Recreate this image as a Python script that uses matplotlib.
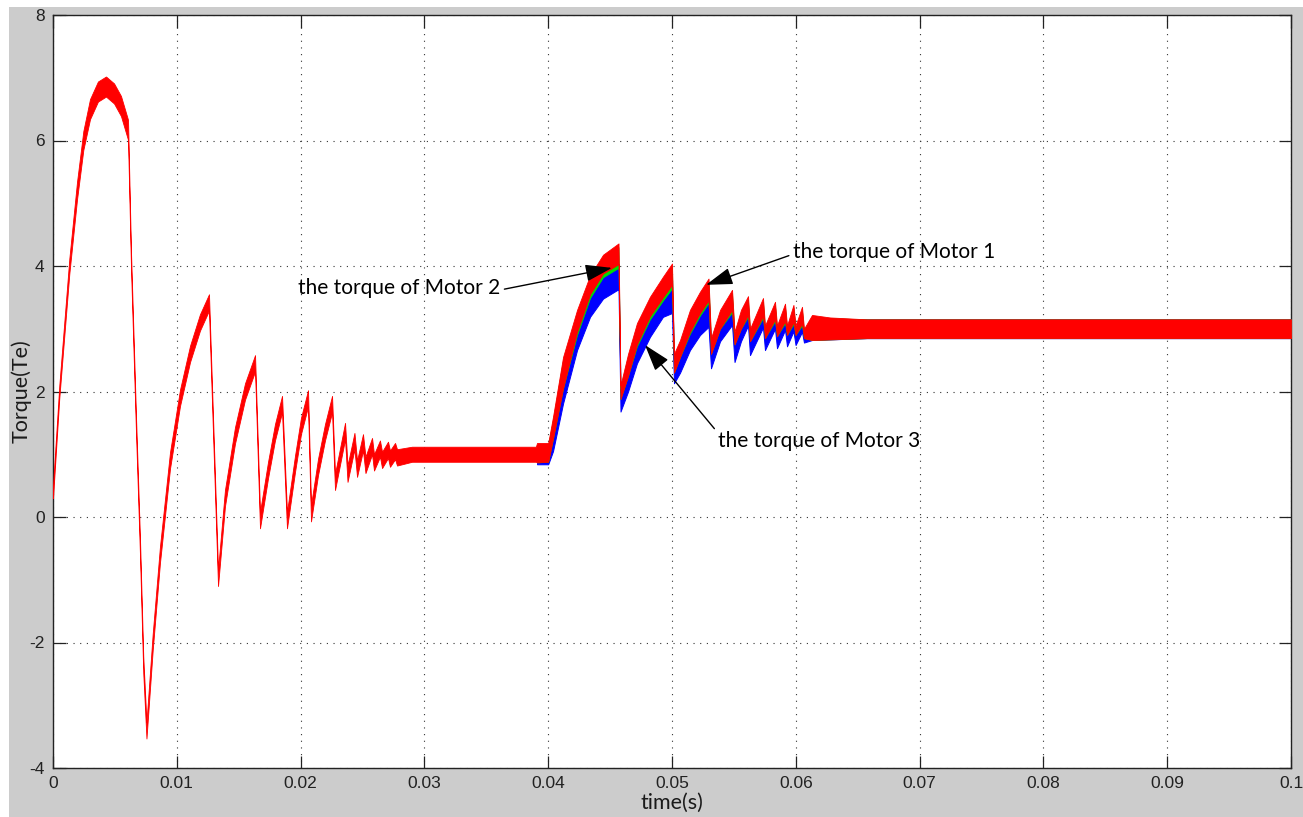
import matplotlib
matplotlib.use("Agg")
import matplotlib.pyplot as plt
from matplotlib.patches import Rectangle
import numpy as np

# ---------------- data ----------------
# start-up phase (0 .. 0.039 s): the three motor torques coincide (band centre and ripple half-width)
t_start = [0.0, 0.00051, 0.00132, 0.00194, 0.00245, 0.00299, 0.00363, 0.00428, 0.00493, 0.00549, 0.00606,
           0.00630, 0.00670, 0.00703, 0.00729, 0.00755,
           0.00805, 0.00864, 0.00945, 0.01026, 0.01107, 0.01187, 0.01260,
           0.01333, 0.01389, 0.01470, 0.01551, 0.01632,
           0.01672, 0.01737, 0.01793, 0.01850,
           0.01890, 0.01955, 0.02003, 0.02060,
           0.02084, 0.02141, 0.02197, 0.02254,
           0.02278, 0.02359, 0.02379, 0.02435, 0.02456, 0.02504, 0.02524, 0.02577,
           0.02593, 0.02641, 0.02658, 0.02706, 0.02722, 0.02763, 0.02779,
           0.0290, 0.0390]
te_start = [0.4, 2.0, 4.0, 5.2, 6.0, 6.5, 6.78, 6.86, 6.75, 6.55, 6.17,
            4.1, 1.5, -0.5, -2.35, -3.4,
            -2.0, -0.6, 0.9, 1.9, 2.6, 3.1, 3.42,
            -0.97, 0.3, 1.3, 2.0, 2.45,
            -0.05, 0.75, 1.35, 1.8,
            -0.05, 0.85, 1.45, 1.89,
            0.06, 0.8, 1.35, 1.8,
            0.56, 1.37, 0.69, 1.21, 0.77, 1.19, 0.83, 1.13,
            0.87, 1.09, 0.91, 1.07, 0.93, 1.05, 0.95,
            1.0, 1.0]
ripple_start = [0.10, 0.10, 0.12, 0.14, 0.15, 0.16, 0.16, 0.16, 0.16, 0.16, 0.16,
                0.13, 0.13, 0.13, 0.13, 0.13,
                0.13, 0.13, 0.13, 0.13, 0.13, 0.13, 0.13,
                0.13, 0.13, 0.13, 0.13, 0.13,
                0.13, 0.13, 0.13, 0.13,
                0.13, 0.13, 0.13, 0.13,
                0.13, 0.13, 0.13, 0.13,
                0.13, 0.13, 0.13, 0.13, 0.13, 0.13, 0.13, 0.13,
                0.13, 0.13, 0.13, 0.13, 0.13, 0.13, 0.13,
                0.12, 0.12]

# load phase (0.039 .. 0.1 s): band limits of each motor torque
t_load = [0.0391, 0.0400, 0.04039, 0.04120, 0.04233, 0.04338, 0.04443, 0.04568,
          0.04584, 0.04645, 0.04717, 0.04822, 0.04927, 0.05000,
          0.05016, 0.05065, 0.05145, 0.05226, 0.05295,
          0.05315, 0.05388, 0.05485,
          0.05505, 0.05557, 0.05614,
          0.05630, 0.05735, 0.05751, 0.05832, 0.05848, 0.05913, 0.05929, 0.05981,
          0.05998, 0.06050, 0.06066,
          0.06131, 0.06276, 0.06575, 0.1000]
m1_high = [1.18, 1.18, 1.6, 2.55, 3.3, 3.85, 4.18, 4.36,
           2.1, 2.6, 3.09, 3.51, 3.83, 4.04,
           2.6, 2.82, 3.3, 3.59, 3.8,
           2.85, 3.3, 3.62,
           2.95, 3.3, 3.52,
           3.0, 3.49, 3.05, 3.43, 3.05, 3.40, 3.05, 3.38,
           3.05, 3.35, 3.0,
           3.22, 3.18, 3.15, 3.15]
m1_low = [0.87, 0.88, 1.25, 2.05, 2.95, 3.55, 3.88, 4.03,
          1.88, 2.25, 2.75, 3.2, 3.5, 3.7,
          2.3, 2.55, 2.95, 3.25, 3.45,
          2.6, 3.0, 3.3,
          2.75, 3.0, 3.22,
          2.8, 3.2, 2.85, 3.15, 2.88, 3.12, 2.9, 3.1,
          2.9, 3.08, 2.85,
          2.82, 2.83, 2.85, 2.85]
m2_high = [1.15, 1.15, 1.55, 2.5, 3.25, 3.8, 4.12, 4.3,
           2.05, 2.55, 3.04, 3.46, 3.78, 3.98,
           2.55, 2.77, 3.25, 3.54, 3.75,
           2.8, 3.25, 3.57,
           2.9, 3.25, 3.47,
           2.95, 3.44, 3.0, 3.38, 3.0, 3.35, 3.0, 3.33,
           3.0, 3.3, 2.95,
           3.2, 3.17, 3.15, 3.15]
m2_low = [0.87, 0.88, 1.25, 2.05, 2.9, 3.49, 3.82, 3.97,
          1.88, 2.25, 2.72, 3.15, 3.45, 3.64,
          2.3, 2.55, 2.92, 3.21, 3.41,
          2.6, 3.0, 3.26,
          2.75, 3.0, 3.19,
          2.8, 3.17, 2.85, 3.12, 2.88, 3.09, 2.9, 3.07,
          2.9, 3.05, 2.85,
          2.82, 2.83, 2.85, 2.85]
m3_high = [1.1, 1.1, 1.5, 2.3, 3.1, 3.6, 3.9, 4.0,
           2.0, 2.4, 2.9, 3.3, 3.6, 3.8,
           2.5, 2.7, 3.1, 3.4, 3.6,
           2.7, 3.1, 3.4,
           2.8, 3.1, 3.35,
           2.85, 3.3, 2.9, 3.25, 2.95, 3.2, 2.95, 3.2,
           2.95, 3.2, 2.9,
           3.18, 3.16, 3.15, 3.15]
m3_low = [0.84, 0.84, 1.05, 1.81, 2.66, 3.19, 3.48, 3.63,
          1.68, 2.0, 2.45, 2.87, 3.19, 3.25,
          2.13, 2.3, 2.66, 2.9, 3.03,
          2.37, 2.8, 3.06,
          2.47, 2.8, 3.05,
          2.58, 3.02, 2.66, 3.0, 2.69, 2.98, 2.72, 2.96,
          2.74, 2.95, 2.78,
          2.82, 2.83, 2.85, 2.85]

x_ticks = [0, 0.01, 0.02, 0.03, 0.04, 0.05, 0.06, 0.07, 0.08, 0.09, 0.1]
x_ticklabels = ["0", "0.01", "0.02", "0.03", "0.04", "0.05", "0.06", "0.07", "0.08", "0.09", "0.1"]
y_ticks = [-4, -2, 0, 2, 4, 6, 8]
y_ticklabels = ["-4", "-2", "0", "2", "4", "6", "8"]

# ---------------- figure ----------------
W, H = 1303, 817
fig = plt.figure(figsize=(W / 100, H / 100), dpi=100, facecolor="white")
fig.add_artist(Rectangle((9 / W, 0), 1 - 9 / W, (H - 7) / H, transform=fig.transFigure,
                         facecolor="#cccccc", edgecolor="none", zorder=-10))

ax = fig.add_axes([53 / W, (H - 768) / H, 1238 / W, 753 / H])
ax.set_facecolor("white")

ts = np.array(t_start)
cs = np.array(te_start)
rs = np.array(ripple_start)
tl = np.array(t_load)

# Motors 3 and 2: only visible after the load step (they coincide with motor 1 before)
ax.fill_between(tl, m3_low, m3_high, facecolor="#0000ff", edgecolor="#0000ff", linewidth=0.7, zorder=3)
ax.fill_between(tl, m2_low, m2_high, facecolor="#00dd00", edgecolor="#00dd00", linewidth=0.5, zorder=3)
# Motor 1 over the whole time span
t_all = np.concatenate([ts, tl])
lo_all = np.concatenate([cs - rs, np.array(m1_low)])
hi_all = np.concatenate([cs + rs, np.array(m1_high)])
ax.fill_between(t_all, lo_all, hi_all, facecolor="#ff0000", edgecolor="#ff0000", linewidth=0.6, zorder=4)

ax.set_xlim(0, 0.1)
ax.set_ylim(-4, 8)
ax.set_xticks(x_ticks)
ax.set_xticklabels(x_ticklabels)
ax.set_yticks(y_ticks)
ax.set_yticklabels(y_ticklabels)
ax.tick_params(direction="in", length=9, width=0.9, top=True, right=True,
               labelsize=12.5, colors="#222222", pad=6)
for lab in ax.get_xticklabels() + ax.get_yticklabels():
    lab.set_fontfamily("Liberation Sans")
for sp in ax.spines.values():
    sp.set_color("#222222")
    sp.set_linewidth(1.0)
ax.grid(True, color="#333333", linestyle=(0, (1, 5)), linewidth=0.8, zorder=1)
ax.set_axisbelow(True)

lab_font = dict(family="Lato", size=15.5, color="#1a1a1a")
ax.set_xlabel("time(s)", labelpad=1, **lab_font)
ax.set_ylabel("Torque(Te)", labelpad=-2, **lab_font)

ann_font = dict(family="Lato", size=15, color="black")
arrow = dict(arrowstyle="-|>,head_length=1.1,head_width=0.35", color="black", lw=1.0,
             shrinkA=1, shrinkB=0)
ax.annotate("the torque of Motor 1", xy=(0.05275, 3.70), xytext=(0.05977, 4.22),
            ha="left", va="center", zorder=6,
            arrowprops=dict(arrow, relpos=(0, 0.4)), **ann_font)
ax.annotate("the torque of Motor 2", xy=(0.04515, 3.97), xytext=(0.01979, 3.65),
            ha="left", va="center", zorder=6,
            arrowprops=dict(arrow, relpos=(1, 0.4)), **ann_font)
ax.annotate("the torque of Motor 3", xy=(0.04782, 2.74), xytext=(0.05372, 1.21),
            ha="left", va="center", zorder=6,
            arrowprops=dict(arrow, relpos=(0, 0.9)), **ann_font)

fig.savefig("out.png", dpi=100, facecolor=fig.get_facecolor())
